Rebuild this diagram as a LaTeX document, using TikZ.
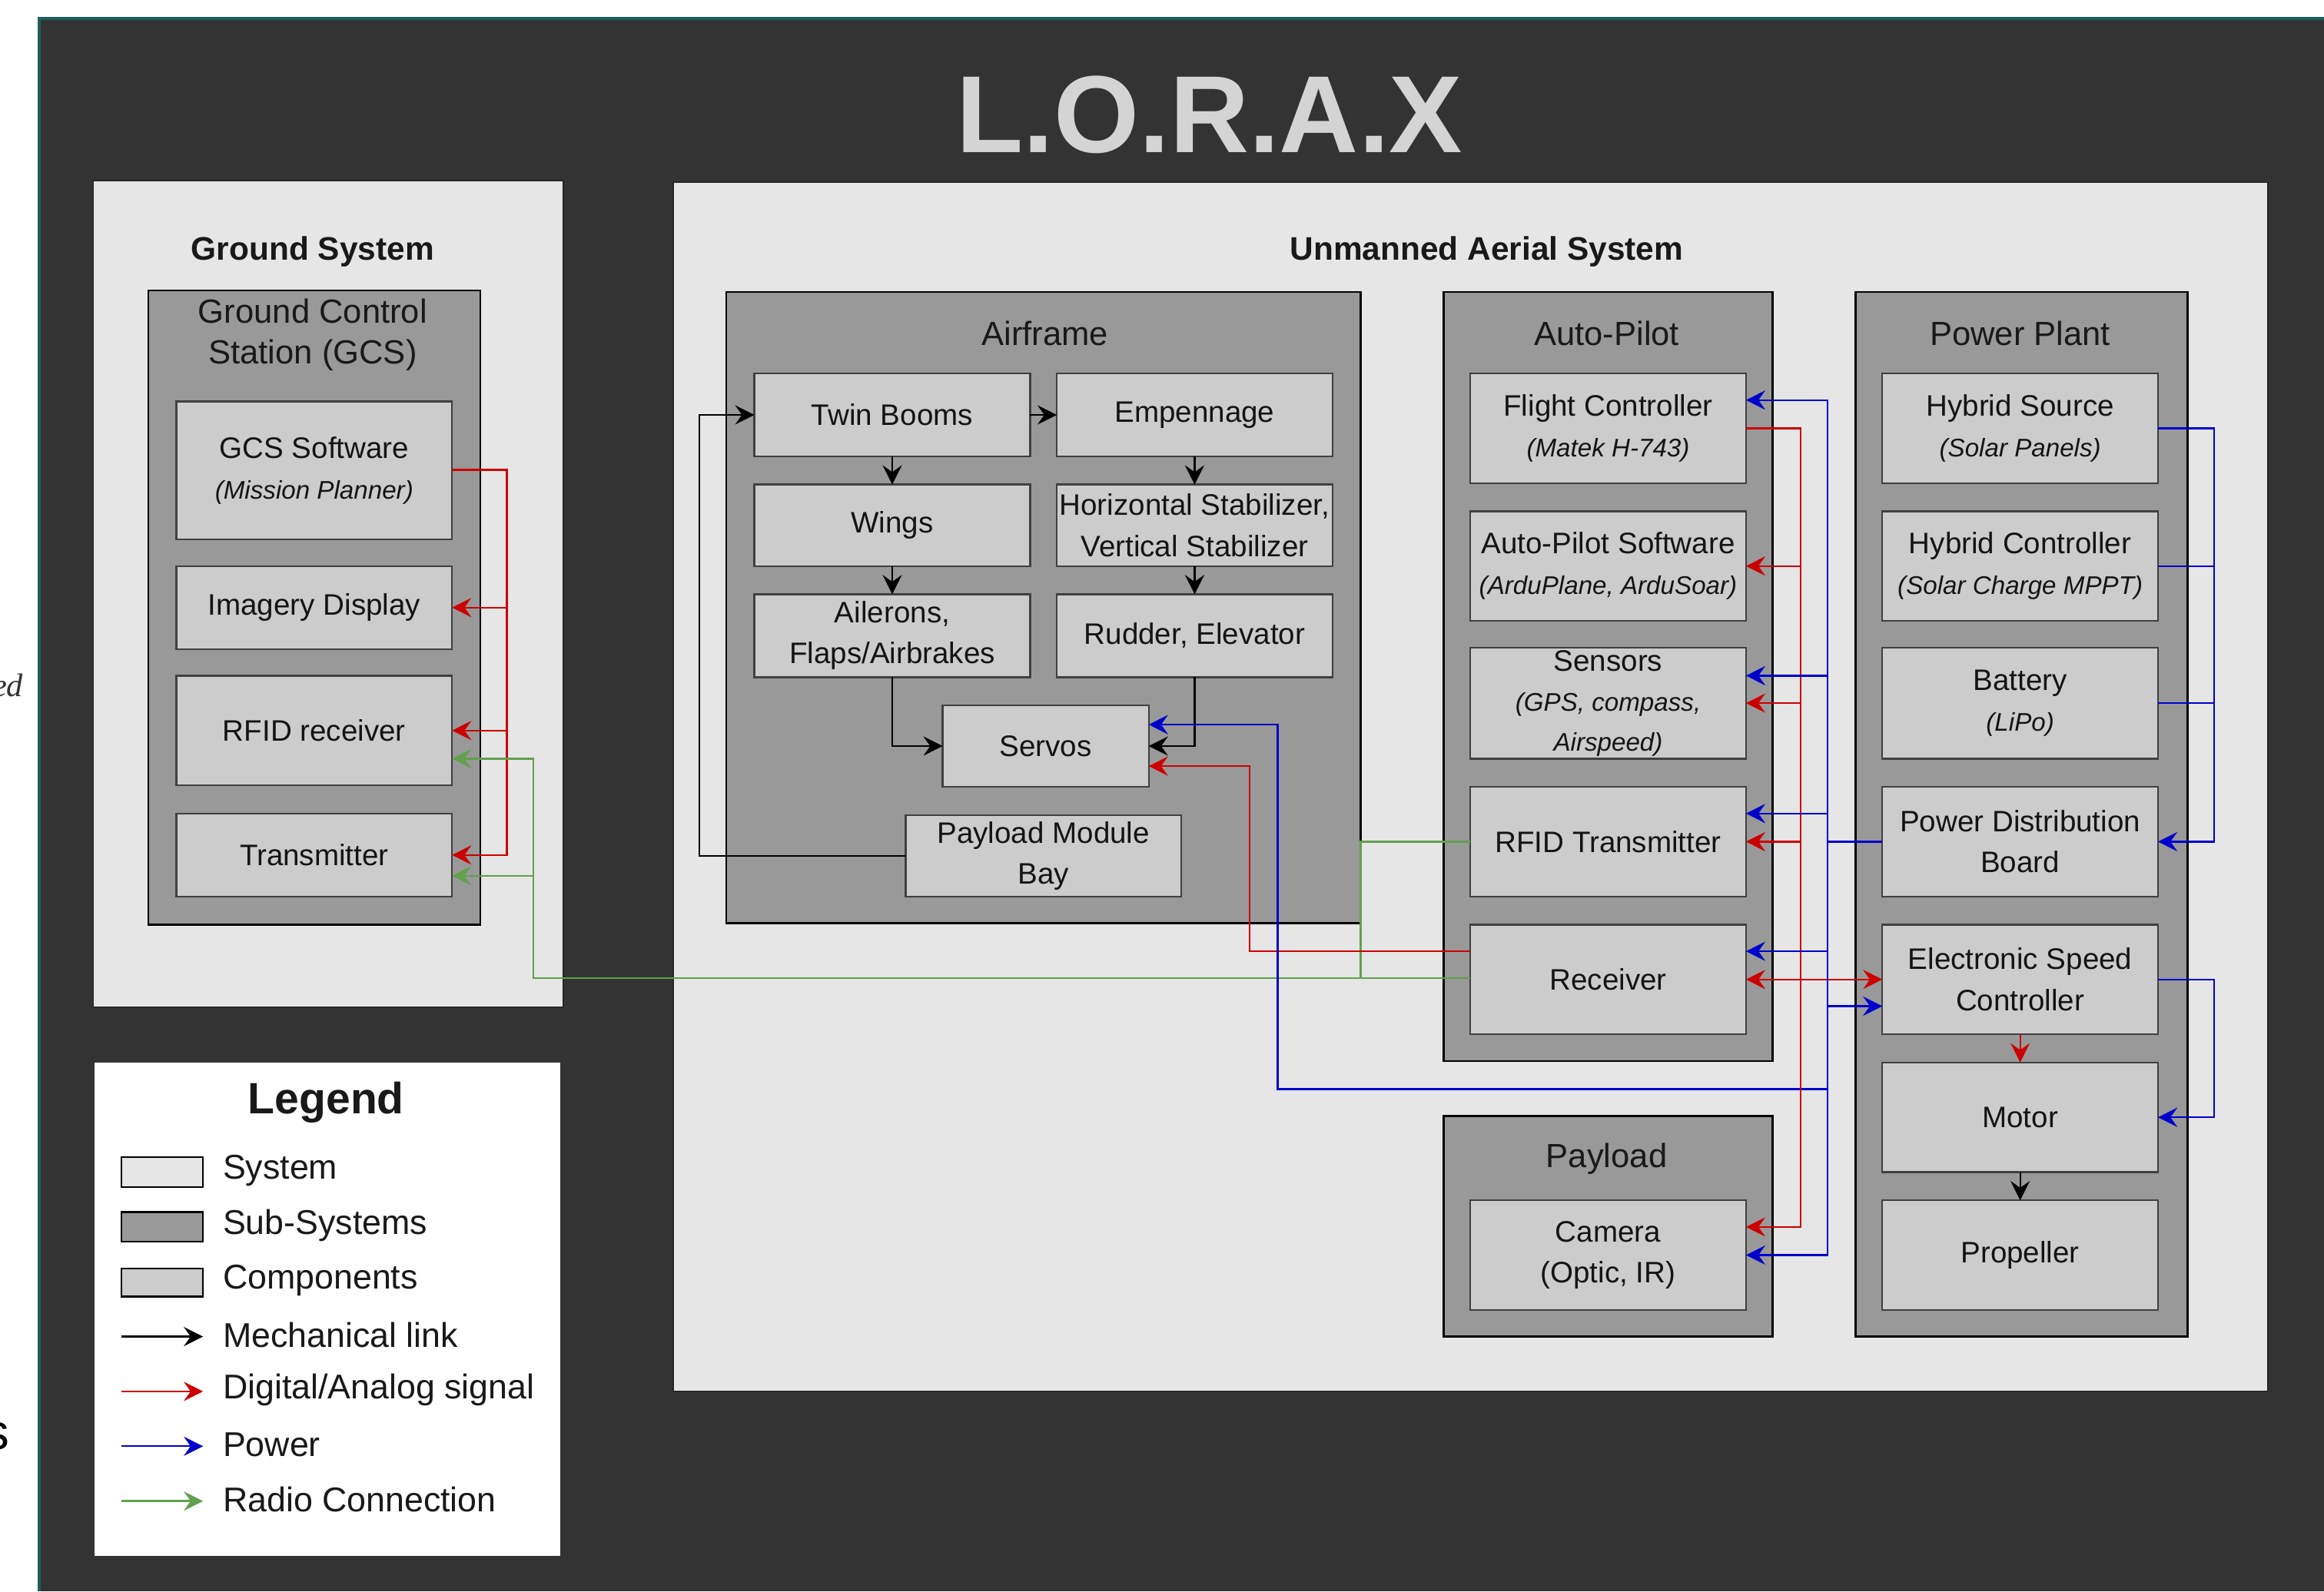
\documentclass[tikz,border=0pt]{standalone}
\usepackage{fontspec}
\setmainfont{Liberation Sans}
\newfontfamily\serifit{Liberation Serif}
\usetikzlibrary{arrows.meta,fit}
\definecolor{bgdark}{HTML}{333333}
\definecolor{sysfill}{HTML}{E6E6E6}
\definecolor{subfill}{HTML}{999999}
\definecolor{compfill}{HTML}{CCCCCC}
\definecolor{sigred}{HTML}{CC0000}
\definecolor{pwrblue}{HTML}{0000CC}
\definecolor{radgreen}{HTML}{62A04E}
\definecolor{tealedge}{HTML}{1D5E5E}
\definecolor{titlegray}{HTML}{D4D4D4}
\newcommand\compit[1]{{\fontsize{8.6}{14}\selectfont\itshape #1}}
\begin{document}
\begin{tikzpicture}[x=0.5pt,y=-0.5pt,
  >={Stealth[length=6.5pt,width=6.5pt,inset=2.3pt]},
  sysbox/.style={draw=black!85,line width=0.5pt,fill=sysfill,inner sep=0pt,outer sep=0pt},
  subbox/.style={draw=black,line width=0.7pt,fill=subfill,inner sep=0pt,outer sep=0pt},
  comp/.style={draw=black!75,line width=0.6pt,fill=compfill,inner sep=0pt,outer sep=0pt},
  ctext/.style={inner sep=0pt,align=center,font=\fontsize{10}{13.8}\selectfont,text=black!92},
  subtitle/.style={align=center,font=\fontsize{11.3}{13.8}\selectfont,text=black!90},
  systitle/.style={font=\bfseries\fontsize{11}{13}\selectfont,text=black!90},
  legtext/.style={anchor=west,inner sep=0pt,font=\fontsize{11.6}{13}\selectfont,text=black!90},
  swatch/.style={draw=black,line width=0.6pt,inner sep=0pt,outer sep=0pt},
  mech/.style={draw=black,line width=0.6pt,->},
  sig/.style={draw=sigred,line width=0.6pt},
  pwr/.style={draw=pwrblue,line width=0.6pt},
  rad/.style={draw=radgreen,line width=0.6pt}]

% page and background
\useasboundingbox (0,0) rectangle (1568,1074);
\fill[white] (0,0) rectangle (1568,1074);
\fill[bgdark] (26,12) rectangle (1568,1074);
\draw[tealedge,line width=1pt] (26.5,1074) -- (26.5,12.5) -- (1568,12.5);

% cut-off text fragments at the left edge
\node[anchor=base east,inner sep=0pt,font=\serifit\itshape\fontsize{11}{12}\selectfont,text=black!80] (fraged) at (16,470) {ed};
\node[anchor=base east,inner sep=0pt,font=\fontsize{17}{18}\selectfont,text=black] (frags) at (7,978) {s};

% title
\node[anchor=base,inner sep=0pt,font=\bfseries\fontsize{37}{40}\selectfont,text=titlegray] (title) at (816,103) {L.O.R.A.X};

% systems
\node[sysbox,fit={(63,122) (380,680)}] (ground) {};
\node[systitle] (groundt) at (211,170) {Ground System};
\node[sysbox,fit={(454,123) (1530,939)}] (uas) {};
\node[systitle] (uast) at (1003,170) {Unmanned Aerial System};

% sub-systems
\node[subbox,fit={(100,196) (324,624)}] (gcs) {};
\node[subtitle] (gcst) at (211,226) {Ground Control\\Station (GCS)};
\node[subbox,fit={(490,197) (918,623)}] (airframe) {};
\node[subtitle] (airframet) at (705,225) {Airframe};
\node[subbox,fit={(974,197) (1196,716)}] (autopilot) {};
\node[subtitle] (autopilott) at (1084,225) {Auto-Pilot};
\node[subbox,fit={(1252,197) (1476,902)}] (powerplant) {};
\node[subtitle] (powerplantt) at (1363,225) {Power Plant};
\node[subbox,fit={(974,753) (1196,902)}] (payload) {};
\node[subtitle] (payloadt) at (1084,782) {Payload};

% GCS components
\node[comp,fit={(119,271) (305,364)}] (gcssw) {};
\node[ctext] (gcsswt) at (gcssw.center) {GCS Software\\\compit{(Mission Planner)}};
\node[comp,fit={(119,382) (305,438)}] (imgd) {};
\node[ctext] (imgdt) at (imgd.center) {Imagery Display};
\node[comp,fit={(119,456) (305,530)}] (rfidrx) {};
\node[ctext] (rfidrxt) at (rfidrx.center) {RFID receiver};
\node[comp,fit={(119,549) (305,605)}] (gtx) {};
\node[ctext] (gtxt) at (gtx.center) {Transmitter};

% Airframe components
\node[comp,fit={(509,252) (695,308)}] (tb) {};
\node[ctext] (tbt) at (tb.center) {Twin Booms};
\node[comp,fit={(713,252) (899,308)}] (emp) {};
\node[ctext] (empt) at (emp.center) {Empennage};
\node[comp,fit={(509,327) (695,382)}] (wings) {};
\node[ctext] (wingst) at (wings.center) {Wings};
\node[comp,fit={(713,327) (899,382)}] (hvs) {};
\node[ctext] (hvst) at (hvs.center) {Horizontal Stabilizer,\\Vertical Stabilizer};
\node[comp,fit={(509,401) (695,457)}] (ail) {};
\node[ctext] (ailt) at (ail.center) {Ailerons,\\Flaps/Airbrakes};
\node[comp,fit={(713,401) (899,457)}] (rud) {};
\node[ctext] (rudt) at (rud.center) {Rudder, Elevator};
\node[comp,fit={(636,476) (775,531)}] (servos) {};
\node[ctext] (servost) at (servos.center) {Servos};
\node[comp,fit={(611,550) (797,605)}] (pmb) {};
\node[ctext] (pmbt) at (pmb.center) {Payload Module\\Bay};

% Auto-Pilot components
\node[comp,fit={(992,252) (1178,326)}] (fc) {};
\node[ctext] (fct) at (fc.center) {Flight Controller\\\compit{(Matek H-743)}};
\node[comp,fit={(992,345) (1178,419)}] (apsw) {};
\node[ctext] (apswt) at (apsw.center) {Auto-Pilot Software\\\compit{(ArduPlane, ArduSoar)}};
\node[comp,fit={(992,437) (1178,512)}] (sens) {};
\node[ctext,font=\fontsize{10}{13.5}\selectfont] (senst) at (sens.center) {Sensors\\\compit{(GPS, compass,}\\\compit{Airspeed)}};
\node[comp,fit={(992,531) (1178,605)}] (rfidtx) {};
\node[ctext] (rfidtxt) at (rfidtx.center) {RFID Transmitter};
\node[comp,fit={(992,624) (1178,698)}] (recv) {};
\node[ctext] (recvt) at (recv.center) {Receiver};

% Payload component
\node[comp,fit={(992,810) (1178,884)}] (cam) {};
\node[ctext] (camt) at (cam.center) {Camera\\(Optic, IR)};

% Power Plant components
\node[comp,fit={(1270,252) (1456,326)}] (hs) {};
\node[ctext] (hst) at (hs.center) {Hybrid Source\\\compit{(Solar Panels)}};
\node[comp,fit={(1270,345) (1456,419)}] (hc) {};
\node[ctext] (hct) at (hc.center) {Hybrid Controller\\\compit{(Solar Charge MPPT)}};
\node[comp,fit={(1270,437) (1456,512)}] (bat) {};
\node[ctext] (batt) at (bat.center) {Battery\\\compit{(LiPo)}};
\node[comp,fit={(1270,531) (1456,605)}] (pdb) {};
\node[ctext] (pdbt) at (pdb.center) {Power Distribution\\Board};
\node[comp,fit={(1270,624) (1456,698)}] (esc) {};
\node[ctext] (esct) at (esc.center) {Electronic Speed\\Controller};
\node[comp,fit={(1270,717) (1456,791)}] (motor) {};
\node[ctext] (motort) at (motor.center) {Motor};
\node[comp,fit={(1270,810) (1456,884)}] (prop) {};
\node[ctext] (propt) at (prop.center) {Propeller};

% bus coordinates
\coordinate (gr) at (342,0);
\coordinate (gg) at (360,0);
\coordinate (pbx) at (472,0);
\coordinate (srx) at (843,0);
\coordinate (sbx) at (862,0);
\coordinate (ga) at (918,0);
\coordinate (rb) at (1215,0);
\coordinate (bb) at (1233,0);
\coordinate (pr) at (1494,0);

% mechanical links (airframe)
\draw[mech] (tb.east) -- (emp.west);
\draw[mech] (tb.south) -- (wings.north);
\draw[mech] (wings.south) -- (ail.north);
\draw[mech] (emp.south) -- (hvs.north);
\draw[mech] (hvs.south) -- (rud.north);
\draw[mech] (ail.south) |- (servos.west);
\draw[mech] (rud.south) |- (servos.east);
\draw[mech] (pmb.west) -| (pbx|-tb.west) -- (tb.west);
\draw[mech] (motor.south) -- (prop.north);

% GCS signals
\draw[sig,->] (gcssw.east|-0,317) -| (gr|-gtx.east) -- (gtx.east);
\draw[sig,->] (gr|-imgd.east) -- (imgd.east);
\draw[sig,->] (gr|-rfidrx.east) -- (rfidrx.east);

% radio links
\draw[rad,->] (recv.west|-0,660) -| (gg|-0,512) -- (rfidrx.east|-0,512);
\draw[rad,->] (gg|-0,591) -- (gtx.east|-0,591);
\draw[rad] (rfidtx.west) -| (ga|-0,660);

% receiver to servos (signal) and power to servos
\draw[sig,->] (recv.west|-0,642) -| (srx|-0,517) -- (servos.east|-0,517);
\draw[pwr,->] (bb|-0,735) -| (sbx|-0,489) -- (servos.east|-0,489);

% auto-pilot signal bus
\draw[sig,->] (fc.east) -| (rb|-0,828) -- (cam.east|-0,828);
\draw[sig,->] (rb|-apsw.east) -- (apsw.east);
\draw[sig,->] (rb|-sens.east) -- (sens.east);
\draw[sig,->] (rb|-rfidtx.east) -- (rfidtx.east);
\draw[sig,<->] (recv.east) -- (esc.west|-recv.east);
\draw[sig,->] (esc.south) -- (motor.north);

% power bus
\draw[pwr,<->] (fc.east|-0,270) -| (bb|-cam.east) -- (cam.east);
\draw[pwr] (pdb.west) -- (bb|-pdb.west);
\draw[pwr,->] (bb|-0,456) -- (sens.east|-0,456);
\draw[pwr,->] (bb|-0,549) -- (rfidtx.east|-0,549);
\draw[pwr,->] (bb|-0,642) -- (recv.east|-0,642);
\draw[pwr,->] (bb|-0,679) -- (esc.west|-0,679);
\draw[pwr,->] (hs.east) -| (pr|-pdb.east) -- (pdb.east);
\draw[pwr] (hc.east) -- (pr|-hc.east);
\draw[pwr] (bat.east) -- (pr|-bat.east);
\draw[pwr,->] (esc.east) -| (pr|-motor.east) -- (motor.east);

% legend
\node[fill=white,inner sep=0pt,outer sep=0pt,fit={(64,717) (378,1050)}] (legend) {};
\node[font=\bfseries\fontsize{14.8}{16}\selectfont,text=black!90] (legendt) at (220,744) {Legend};
\node[swatch,fill=sysfill,fit={(82,781) (137,801)}] (swsys) {};
\node[swatch,fill=subfill,fit={(82,818) (137,838)}] (swsub) {};
\node[swatch,fill=compfill,fit={(82,856) (137,875)}] (swcomp) {};
\coordinate (lma) at (82,902);  \coordinate (lmb) at (137,902);
\coordinate (lsa) at (82,939);  \coordinate (lsb) at (137,939);
\coordinate (lpa) at (82,976);  \coordinate (lpb) at (137,976);
\coordinate (lra) at (82,1013); \coordinate (lrb) at (137,1013);
\draw[mech] (lma) -- (lmb);
\draw[sig,->] (lsa) -- (lsb);
\draw[pwr,->] (lpa) -- (lpb);
\draw[rad,->] (lra) -- (lrb);
\node[legtext] (lt1) at (150,790) {System};
\node[legtext] (lt2) at (150,827) {Sub-Systems};
\node[legtext] (lt3) at (150,864) {Components};
\node[legtext] (lt4) at (150,901) {Mechanical link};
\node[legtext] (lt5) at (150,938) {Digital/Analog signal};
\node[legtext] (lt6) at (150,975) {Power};
\node[legtext] (lt7) at (150,1012) {Radio Connection};
\end{tikzpicture}
\end{document}
